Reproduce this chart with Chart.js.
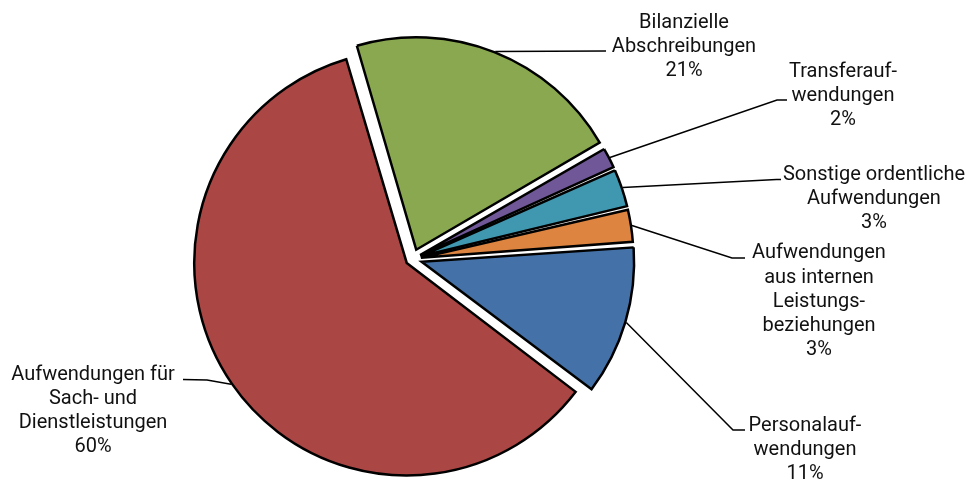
<!DOCTYPE html>
<html><head><meta charset="utf-8">
<script src="https://cdn.jsdelivr.net/npm/chart.js@4"></script>
<style>html,body{margin:0;padding:0;background:#fff;} #c{display:block;}</style>
</head><body>
<canvas id="c" width="969" height="480"></canvas>
<script>
// ---- data ----
const categories = ["Personalaufwendungen", "Aufwendungen für Sach- und Dienstleistungen", "Bilanzielle Abschreibungen", "Transferaufwendungen", "Sonstige ordentliche Aufwendungen", "Aufwendungen aus internen Leistungsbeziehungen"];
const labelLines = [["Personalauf-","wendungen"],["Aufwendungen für","Sach- und","Dienstleistungen"],["Bilanzielle","Abschreibungen"],["Transferauf-","wendungen"],["Sonstige ordentliche","Aufwendungen"],["Aufwendungen","aus internen","Leistungs-","beziehungen"]];
const shares = [11.4, 60.2, 21.1, 1.7, 3.0, 2.6];

// ---- style / layout ----
const colors = ['#4472A8','#AA4745','#8AA850','#705898','#4098B0','#DC8440'];
const explode = [38, 28, 40, 34, 34, 34];
const OUTER = 212.5;
const FONT = '20px Roboto';
const LH = 24.2;
const labelLayout = [
  {cx:805, y:431, elbow:[733,430], end:[745,430]},
  {cx:93, y:379.5, elbow:[207,380], end:[183,379.5]},
  {cx:684, y:27.5, elbow:null, end:[606,51]},
  {cx:843, y:77, elbow:[777,100], end:[787,100]},
  {cx:874, y:180, elbow:[776.5,179.5], end:[781,179.5]},
  {cx:819, y:258.3, elbow:[732,258], end:[745,258]}
];

const evenRadius = {
  id:'evenRadius',
  afterDatasetsUpdate(chart){
    chart.getDatasetMeta(0).data.forEach(arc=>{
      const off = (arc.options.offset||0)/4;
      const fix = 1 - Math.sin(Math.min(Math.PI, arc.circumference));
      arc.outerRadius = OUTER - off*fix;
    });
  }
};

const leaders = {
  id:'leaders',
  afterDraw(chart){
    const ctx = chart.ctx;
    const arcs = chart.getDatasetMeta(0).data;
    const total = shares.reduce((a,b)=>a+b,0);
    ctx.save();
    arcs.forEach((arc,i)=>{
      const mid = (arc.startAngle+arc.endAngle)/2;
      const off = (arc.options.offset||0)/4;
      const cx = arc.x + Math.cos(mid)*off, cy = arc.y + Math.sin(mid)*off;
      const sx = cx + Math.cos(mid)*(OUTER+1), sy = cy + Math.sin(mid)*(OUTER+1);
      const L = labelLayout[i];
      ctx.beginPath(); ctx.moveTo(sx,sy);
      if (L.elbow) ctx.lineTo(L.elbow[0], L.elbow[1]);
      ctx.lineTo(L.end[0], L.end[1]);
      ctx.strokeStyle='#000'; ctx.lineWidth=1.5; ctx.stroke();
      const lines = labelLines[i].concat([Math.round(shares[i]/total*100)+'%']);
      ctx.fillStyle='#111'; ctx.font = FONT; ctx.textAlign='center'; ctx.textBaseline='alphabetic';
      lines.forEach((t,k)=>ctx.fillText(t, L.cx, L.y + k*LH));
    });
    ctx.restore();
  }
};

new Chart(document.getElementById('c'), {
  type:'pie',
  data:{labels:categories, datasets:[{data:shares, backgroundColor:colors, borderColor:'#000', borderWidth:2.5, borderJoinStyle:'miter', offset:explode, hoverOffset:0}]},
  options:{
    responsive:false, devicePixelRatio:1, animation:false, events:[],
    rotation:86, radius:OUTER,
    layout:{padding:{left:0,right:144,top:38,bottom:0}},
    plugins:{legend:{display:false}, tooltip:{enabled:false}}
  },
  plugins:[evenRadius, leaders]
});
</script>
</body></html>
